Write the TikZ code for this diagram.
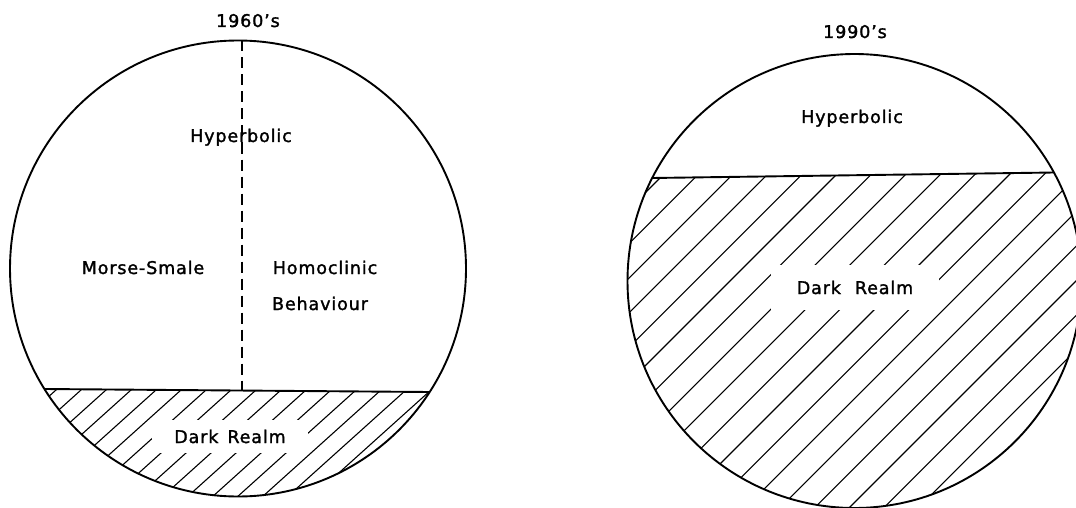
\documentclass[tikz,border=0pt]{standalone}
\usepackage{fontspec}
\newfontfamily\plotfont[LetterSpace=5,FakeBold=1.6]{DejaVu Sans}
\begin{document}
\begin{tikzpicture}[x=1pt,y=-1pt,
  outline/.style={line width=1.9pt},
  hatch/.style={line width=1.1pt},
  lbl/.style={font={\plotfont\fontsize{17.5}{21}\selectfont}, inner sep=0pt, anchor=base},
  divider/.style={line width=1.4pt, dash pattern=on 11pt off 6pt}]
\clip (0,0) rectangle (1076,508);
\fill[white] (0,0) rectangle (1076,508);

% ---------- left disc (1960's) ----------
\coordinate (cL) at (238,268.5);
\coordinate (chL1) at (44.4,389);
\coordinate (chL2) at (429.7,392);
\coordinate (dTop) at (242,40.5);
\coordinate (dBot) at (242,390.9);
\begin{scope}
  \clip (cL) circle[radius=228pt];
  \clip (chL1) -- (chL2) -- (480,392) -- (480,520) -- (0,520) -- (0,389) -- cycle;
  \foreach \i in {0,...,23} {
    \draw[hatch] ({6+25*\i-150},{390+150*0.9}) -- ({6+25*\i+150},{390-150*0.9});
  }
\end{scope}
\draw[outline] (cL) circle[radius=228pt];
\draw[outline] (chL1) -- (chL2);
\draw[divider] (dTop) -- (dBot);

\node[lbl] (t1960) at (248,27) {1960’s};
\node[lbl] (hypL) at (241,142) {Hyperbolic};
\node[lbl] (morse) at (143,274) {Morse-Smale};
\node[lbl] (homo) at (325,274) {Homoclinic};
\node[lbl] (behav) at (320,310) {Behaviour};
\node[lbl, fill=white, inner xsep=22pt, inner ysep=10pt] (darkL) at (230,443) {Dark\hspace{9pt}Realm};

% ---------- right disc (1990's) ----------
\coordinate (cR) at (854.5,281);
\coordinate (chR1) at (652.2,178);
\coordinate (chR2) at (1053.9,172.5);
\begin{scope}
  \clip (cR) circle[radius=227pt];
  \clip (chR1) -- (chR2) -- (1100,172) -- (1100,520) -- (600,520) -- (600,178) -- cycle;
  \foreach \i in {-1,...,19} {
    \draw[hatch] ({663+34.6*\i-400},{175+400}) -- ({663+34.6*\i+400},{175-400});
  }
\end{scope}
\draw[outline] (cR) circle[radius=227pt];
\draw[outline] (chR1) -- (chR2);

\node[lbl] (t1990) at (855,38) {1990’s};
\node[lbl] (hypR) at (852,123) {Hyperbolic};
\node[lbl, fill=white, inner xsep=26pt, inner ysep=16pt] (darkR) at (855,294) {Dark\hspace{14pt}Realm};
\end{tikzpicture}
\end{document}
